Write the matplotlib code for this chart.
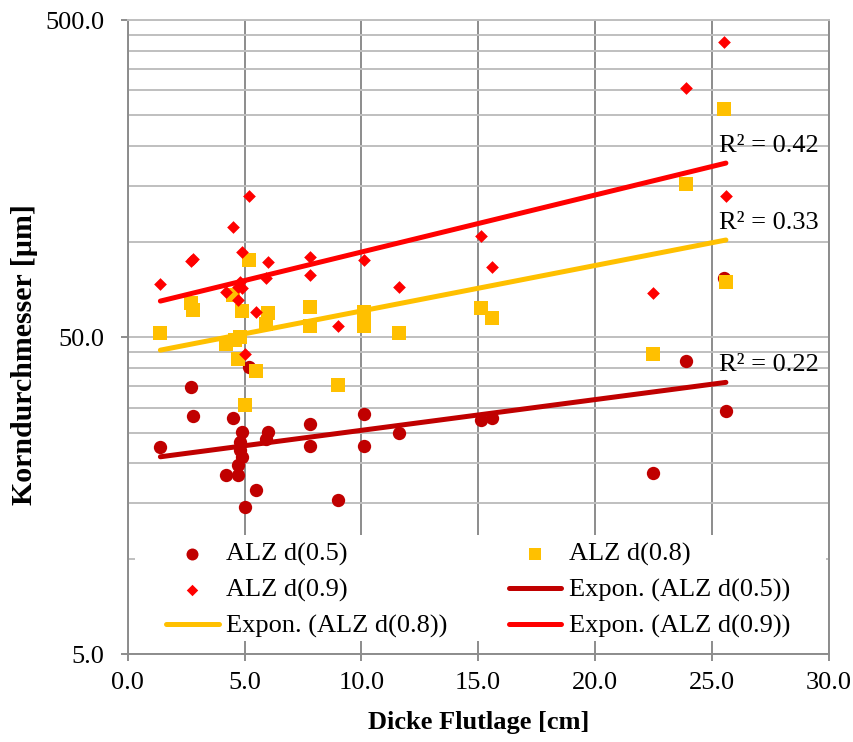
import numpy as np
import matplotlib
matplotlib.use('Agg')
import matplotlib.pyplot as plt
from matplotlib.patches import Rectangle
from matplotlib.ticker import FixedLocator, FormatStrFormatter, NullFormatter

# Dicke Flutlage [cm] / Korndurchmesser [um]
x_d05 = [1.4, 2.7, 2.8, 4.2, 4.5, 4.7, 4.7, 4.8, 4.8, 4.9, 4.9, 5.0, 5.2, 5.5,
	5.9, 6.0, 7.8, 7.8, 9.0, 10.1, 10.1, 11.6, 15.1, 15.6, 22.5, 23.9, 25.5, 25.6]
y_d05 = [22.5, 34.7, 28.2, 18.4, 27.9, 19.7, 18.4, 23.4, 22.0, 25.2, 20.9, 14.6, 40.3, 16.5,
	23.9, 25.1, 26.7, 22.7, 15.3, 28.7, 22.7, 24.9, 27.4, 27.9, 18.6, 42.1, 77.1, 29.2]

x_d08 = [1.4, 2.7, 2.8, 4.2, 4.5, 4.6, 4.7, 4.8, 4.9, 5.0, 5.2, 5.5,
	5.9, 6.0, 7.8, 7.8, 9.0, 10.1, 10.1, 11.6, 15.1, 15.6, 22.5, 23.9, 25.5, 25.6]
y_d08 = [51.6, 64.2, 60.9, 47.5, 68.0, 49.1, 42.8, 50.1, 60.6, 30.5, 87.5, 39.1,
	55.2, 59.4, 62.4, 54.3, 35.3, 60.1, 54.3, 51.4, 61.9, 57.5, 44.4, 152.0, 262.0, 74.8]

x_d09 = [1.4, 2.7, 2.8, 4.2, 4.5, 4.7, 4.7, 4.8, 4.9, 4.9, 5.0, 5.2, 5.5,
	5.9, 6.0, 7.8, 7.8, 9.0, 10.1, 11.6, 15.1, 15.6, 22.5, 23.9, 25.5, 25.6]
y_d09 = [73.8, 87.0, 88.1, 69.5, 111.4, 65.5, 72.0, 74.7, 92.9, 71.7, 44.4, 139.5, 60.1,
	76.9, 86.4, 89.6, 78.5, 54.3, 87.5, 72.1, 104.2, 83.3, 68.7, 305.8, 427.3, 139.5]

series_labels = ['ALZ d(0.5)', 'ALZ d(0.8)', 'ALZ d(0.9)']
r2_labels = ['0.22', '0.33', '0.42']
y_major = [5, 50, 500]
y_minor = [10, 15, 20, 25, 30, 35, 40, 45, 100, 150, 200, 250, 300, 350, 400, 450]

c05 = '#C00000'
c08 = '#FFC000'
c09 = '#FF0000'

plt.rcParams['font.family'] = ['Liberation Serif', 'DejaVu Serif']


def expon_fit(x, y):
	x = np.asarray(x, dtype=float)
	y = np.asarray(y, dtype=float)
	b, ln_a = np.polyfit(x, np.log(y), 1)
	xs = np.linspace(x.min(), x.max(), 50)
	return xs, np.exp(ln_a + b * xs)


fig = plt.figure(figsize=(8.54, 7.42), dpi=100)
ax = fig.add_axes([0.1495, 0.1182, 0.8209, 0.8548])

s05 = ax.scatter(x_d05, y_d05, marker='o', s=92, color=c05, linewidths=0, zorder=3)
s08 = ax.scatter(x_d08, y_d08, marker='s', s=106, color=c08, linewidths=0, zorder=3)
s09 = ax.scatter(x_d09, y_d09, marker='D', s=42, color=c09, linewidths=0, zorder=3)

lines = []
for (xd, yd, col, r2) in [(x_d05, y_d05, c05, r2_labels[0]),
		(x_d08, y_d08, c08, r2_labels[1]),
		(x_d09, y_d09, c09, r2_labels[2])]:
	xs, ys = expon_fit(xd, yd)
	ln, = ax.plot(xs, ys, color=col, lw=3.6, solid_capstyle='round', zorder=4)
	lines.append(ln)
	ax.annotate('R² = ' + r2, xy=(xs[-1], ys[-1]), xytext=(-7, 17),
		textcoords='offset pixels', fontsize=19, ha='left', va='center')

ax.set_yscale('log')
ax.set_xlim(0, 30)
ax.set_ylim(5, 500)
ax.set_xticks(np.arange(0, 31, 5))
ax.xaxis.set_major_formatter(FormatStrFormatter('%.1f'))
ax.yaxis.set_major_locator(FixedLocator(y_major))
ax.yaxis.set_minor_locator(FixedLocator(y_minor))
ax.yaxis.set_major_formatter(FormatStrFormatter('%.1f'))
ax.yaxis.set_minor_formatter(NullFormatter())

ax.set_axisbelow(True)
ax.grid(True, which='major', axis='x', color='#8c8c8c', lw=1.4)
ax.grid(True, which='both', axis='y', color='#bfbfbf', lw=1.4)
ax.tick_params(axis='both', which='major', direction='out', length=5, width=1.4,
	color='#8c8c8c', labelsize=19)
ax.tick_params(axis='x', pad=8)
ax.tick_params(axis='y', pad=12)
ax.tick_params(axis='y', which='minor', length=0)
for side in ['left', 'bottom', 'right']:
	ax.spines[side].set_color('#8c8c8c')
	ax.spines[side].set_linewidth(1.4)
ax.spines['top'].set_color('#bfbfbf')
ax.spines['top'].set_linewidth(1.4)

ax.set_xlabel('Dicke Flutlage [cm]', fontsize=19, fontweight='bold', labelpad=12)
ax.set_ylabel('Korndurchmesser [µm]', fontsize=21.5, fontweight='bold')
ax.yaxis.set_label_coords(-0.128, 0.472)

# white legend area like the Excel legend box
ax.add_patch(Rectangle((0.011, 0.021), 0.985, 0.167, transform=ax.transAxes,
	facecolor='white', edgecolor='none', zorder=2.3))

handles = [s05, s09, lines[1], s08, lines[0], lines[2]]
labels = [series_labels[0], series_labels[2], 'Expon. (' + series_labels[1] + ')',
	series_labels[1], 'Expon. (' + series_labels[0] + ')', 'Expon. (' + series_labels[2] + ')']
leg = ax.legend(handles, labels, ncol=2, loc='lower center', bbox_to_anchor=(0.5, 0.0),
	fontsize=19, handlelength=2.0, handletextpad=0.3, columnspacing=2.3,
	labelspacing=0.46, borderpad=0.1, scatterpoints=1, markerscale=0.9,
	frameon=False)
leg.set_zorder(2.4)

fig.savefig('out.png', dpi=100)
